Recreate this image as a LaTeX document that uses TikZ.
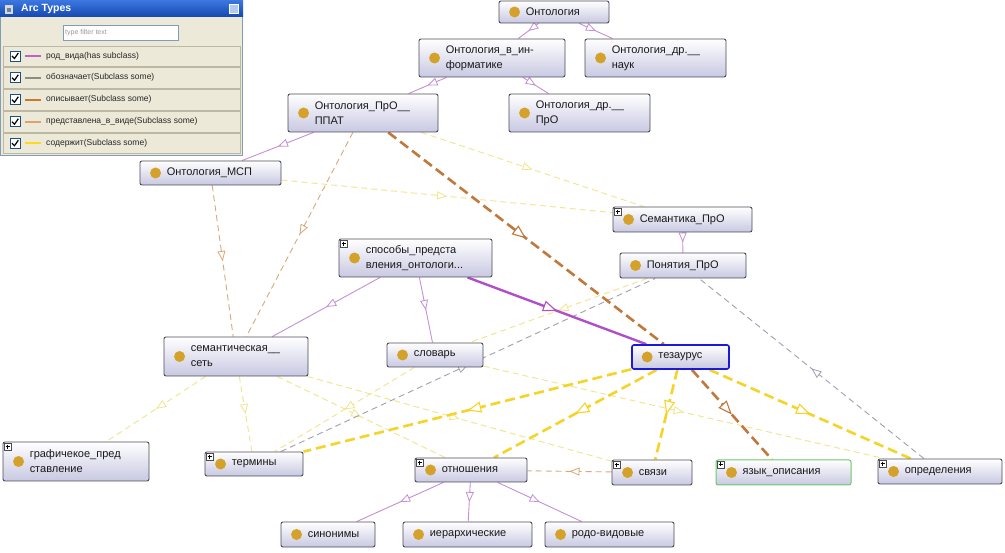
\documentclass[tikz,border=0pt]{standalone}
\usepackage{fontspec}
\setmainfont{Liberation Sans}
\usetikzlibrary{arrows.meta,decorations.markings,calc}
\pgfdeclarelayer{back}
\pgfdeclarelayer{edges}
\pgfsetlayers{back,edges,main}
\definecolor{rodc}{HTML}{C58FD6}
\definecolor{rodthick}{HTML}{B050C8}
\definecolor{obozc}{HTML}{A0A0B0}
\definecolor{opisc}{HTML}{C0783C}
\definecolor{predc}{HTML}{D8A878}
\definecolor{sodc}{HTML}{F2E48A}
\definecolor{sodthick}{HTML}{F5D428}
\definecolor{boxc}{HTML}{4A4A58}
\definecolor{boxbot}{HTML}{C8C8E2}
\definecolor{dotc}{HTML}{D4A22A}
\definecolor{legbg}{HTML}{ECE9D8}
\definecolor{rowbd}{HTML}{BDB8A4}
\definecolor{titA}{HTML}{3C78E0}
\definecolor{titB}{HTML}{1448B0}
\definecolor{fieldbd}{HTML}{7F9DB9}
\definecolor{chkbd}{HTML}{1C5180}
\definecolor{tezc}{HTML}{1A1AD8}
\definecolor{yazc}{HTML}{6CC86C}
\definecolor{lgrod}{HTML}{C060C8}
\definecolor{lgoboz}{HTML}{8C8C84}
\definecolor{lgopis}{HTML}{C87830}
\definecolor{lgpred}{HTML}{E0A070}
\definecolor{lgsod}{HTML}{FFD820}
\tikzset{
  midS/.style={decoration={markings,mark=at position 0.5 with {\arrow{Triangle[length=10pt,width=8pt,fill=white,line width=0.8pt]}}},postaction={decorate}},
  midL/.style={decoration={markings,mark=at position 0.5 with {\arrow{Triangle[length=14pt,width=11pt,fill=white,line width=1.1pt]}}},postaction={decorate}},
  rodE/.style={draw=rodc,line width=0.9pt,midS},
  rodT/.style={draw=rodthick,line width=2.4pt,midL},
  obozE/.style={draw=obozc,line width=0.9pt,dash pattern=on 6pt off 4pt,midS},
  opisT/.style={draw=opisc,line width=2.6pt,dash pattern=on 10pt off 5pt,midL},
  predE/.style={draw=predc,line width=0.9pt,dash pattern=on 6pt off 4pt,midS},
  sodE/.style={draw=sodc,line width=0.9pt,dash pattern=on 6pt off 4pt,midS},
  sodT/.style={draw=sodthick,line width=2.6pt,dash pattern=on 10pt off 5pt,midL},
  obox/.style={draw=boxc,line width=0.9pt,rounded corners=2pt,top color=white,bottom color=boxbot,inner sep=0pt},
  tez/.style={draw=tezc,line width=1.6pt},
  yaz/.style={draw=yazc,line width=1pt},
  lbl/.style={anchor=west,inner sep=0pt,align=left,font=\fontsize{11}{15}\selectfont,text=black!90},
  legtxt/.style={anchor=west,inner sep=0pt,font=\fontsize{8.5}{10}\selectfont,text=black!85}
}
\newcommand{\onode}[7][]{%
  \pgfmathsetmacro{\obW}{#5-#3}\pgfmathsetmacro{\obH}{#6-#4}%
  \pgfmathsetmacro{\obX}{(#3+#5)/2}\pgfmathsetmacro{\obY}{(#4+#6)/2}%
  \node[obox,#1,minimum width=\obW pt,minimum height=\obH pt] (#2) at (\obX,\obY) {};
  \fill[dotc] ([xshift=16pt]#2.west) circle (5.5pt);
  \node[lbl] (#2-t) at ([xshift=27pt]#2.west) {#7};
}
\newcommand{\plusbox}[1]{%
  \draw[fill=white,draw=black!70,line width=0.5pt] ([xshift=1.5pt,yshift=-1.5pt]#1.north west) rectangle ++(7,7);
  \draw[line width=0.6pt] ([xshift=3pt,yshift=-5pt]#1.north west) -- ++(4,0);
  \draw[line width=0.6pt] ([xshift=5pt,yshift=-3pt]#1.north west) -- ++(0,4);
}
\begin{document}
\begin{tikzpicture}[x=1pt,y=-1pt]
\useasboundingbox (0,0) rectangle (1005,553);
\begin{pgfonlayer}{back}
\fill[white] (0,0) rectangle (1005,553);
\end{pgfonlayer}

\onode{n1}{499}{1}{609}{23}{Онтология}
\onode{n2}{419}{39}{565}{77}{Онтология\_в\_ин-\\форматике}
\onode{n3}{585}{39}{726}{77}{Онтология\_др.\_\_\\наук}
\onode{n4}{288}{94}{438}{132}{Онтология\_ПрО\_\_\\ППАТ}
\onode{n5}{509}{94}{650}{132}{Онтология\_др.\_\_\\ПрО}
\onode{n6}{140}{161}{281}{185}{Онтология\_МСП}
\onode{n7}{613}{207}{752}{232}{Семантика\_ПрО}
\onode{n8}{620}{253}{746}{278}{Понятия\_ПрО}
\onode{n9}{339}{239}{492}{277}{способы\_предста\\вления\_онтологи...}
\onode{n10}{164}{337}{308}{376}{семантическая\_\_\\сеть}
\onode{n11}{387}{343}{483}{367}{словарь}
\onode[tez]{n12}{632}{345}{729}{369}{тезаурус}
\onode{n13}{3}{442}{149}{481}{графичекое\_пред\\ставление}
\onode{n14}{205}{452}{303}{476}{термины}
\onode{n15}{415}{458}{527}{482}{отношения}
\onode{n16}{612}{460}{692}{485}{связи}
\onode[yaz]{n17}{716}{460}{851}{485}{язык\_описания}
\onode{n18}{878}{459}{1002}{484}{определения}
\onode{n19}{281}{522}{375}{547}{синонимы}
\onode{n20}{403}{522}{532}{547}{иерархические}
\onode{n21}{545}{522}{674}{547}{родо-видовые}
\plusbox{n7}\plusbox{n9}\plusbox{n13}\plusbox{n14}\plusbox{n15}\plusbox{n16}\plusbox{n17}\plusbox{n18}

\begin{pgfonlayer}{edges}
% содержит (thin)
\draw[sodE] (n4) -- (n7);
\draw[sodE] (n6) -- (n7);
\draw[sodE] (n8) -- (n11);
\draw[sodE] (n10) -- (n13);
\draw[sodE] (n10) -- (n14);
\draw[sodE] (n10) -- (n15);
\draw[sodE] (n10) -- (n16);
\draw[sodE] (n11) -- (n14);
\draw[sodE] (n11) -- (n18);
% обозначает
\draw[obozE] (n14) -- (n8);
\draw[obozE] (n18) -- (n8);
% представлена_в_виде
\draw[predE] (n4) -- (n10);
\draw[predE] (n6) -- (n10);
\draw[predE] (n16) -- (n15);
% род_вида
\draw[rodE] (n1) -- (n2);
\draw[rodE] (n1) -- (n3);
\draw[rodE] (n2) -- (n4);
\draw[rodE] (n2) -- (n5);
\draw[rodE] (n4) -- (n6);
\draw[rodE] (n7) -- (n8);
\draw[rodE] (n9) -- (n10);
\draw[rodE] (n9) -- (n11);
\draw[rodE] (n15) -- (n19);
\draw[rodE] (n15) -- (n20);
\draw[rodE] (n15) -- (n21);
\draw[rodT] (n9) -- (n12);
% содержит (thick)
\draw[sodT] (n12) -- (n14);
\draw[sodT] (n12) -- (n15);
\draw[sodT] (n12) -- (n16);
\draw[sodT] (n12) -- (n18);
% описывает
\draw[opisT] (n4) -- (n12);
\draw[opisT] (n12) -- (n17);
\end{pgfonlayer}

% legend panel
\fill[legbg] (0,0) rectangle (243,155);
\draw[fieldbd,line width=0.8pt] (0.5,0) -- (0.5,155) -- (242.5,155) -- (242.5,0);
\shade[top color=titA,bottom color=titB] (0,0) rectangle (243,17);
\fill[black!15] (5,5) rectangle (13,14);
\fill[chkbd!70] (7,8) rectangle (11,12);
\node[anchor=west,inner sep=0pt,font=\bfseries\fontsize{10.5}{12}\selectfont,text=white] (legtitle) at (21,9) {Arc Types};
\fill[titA!40] (229,4) rectangle (239,14);
\draw[white,line width=0.6pt] (229.5,4.5) rectangle (238.5,13.5);
\node[draw=fieldbd,fill=white,line width=0.6pt,minimum width=115pt,minimum height=15pt,inner sep=0pt] (filter) at (120.5,32.5) {};
\node[anchor=west,inner sep=0pt,font=\fontsize{7}{8}\selectfont,text=black!40] (filtertxt) at (65,32.5) {type filter text};
\foreach \ya/\yb/\col/\txt [count=\i] in {46/66/lgrod/{род\_вида(has subclass)},67.5/88/lgoboz/{обозначает(Subclass some)},89.5/110/lgopis/{описывает(Subclass some)},111.5/132/lgpred/{представлена\_в\_виде(Subclass some)},133.5/153/lgsod/{содержит(Subclass some)}}{
  \pgfmathsetmacro{\yc}{(\ya+\yb)/2}
  \draw[rowbd,fill=legbg,line width=0.7pt] (3,\ya) rectangle (240,\yb);
  \draw[chkbd,fill=white,line width=0.7pt] (10,\yc-5) rectangle (20,\yc+5);
  \draw[black,line width=1.2pt] (12,\yc) -- (14.5,\yc+2.5) -- (18.3,\yc-3);
  \draw[\col,line width=2pt] (25,\yc) -- (41,\yc);
  \node[legtxt] (leg\i) at (46,\yc) {\txt};
}
\end{tikzpicture}
\end{document}
